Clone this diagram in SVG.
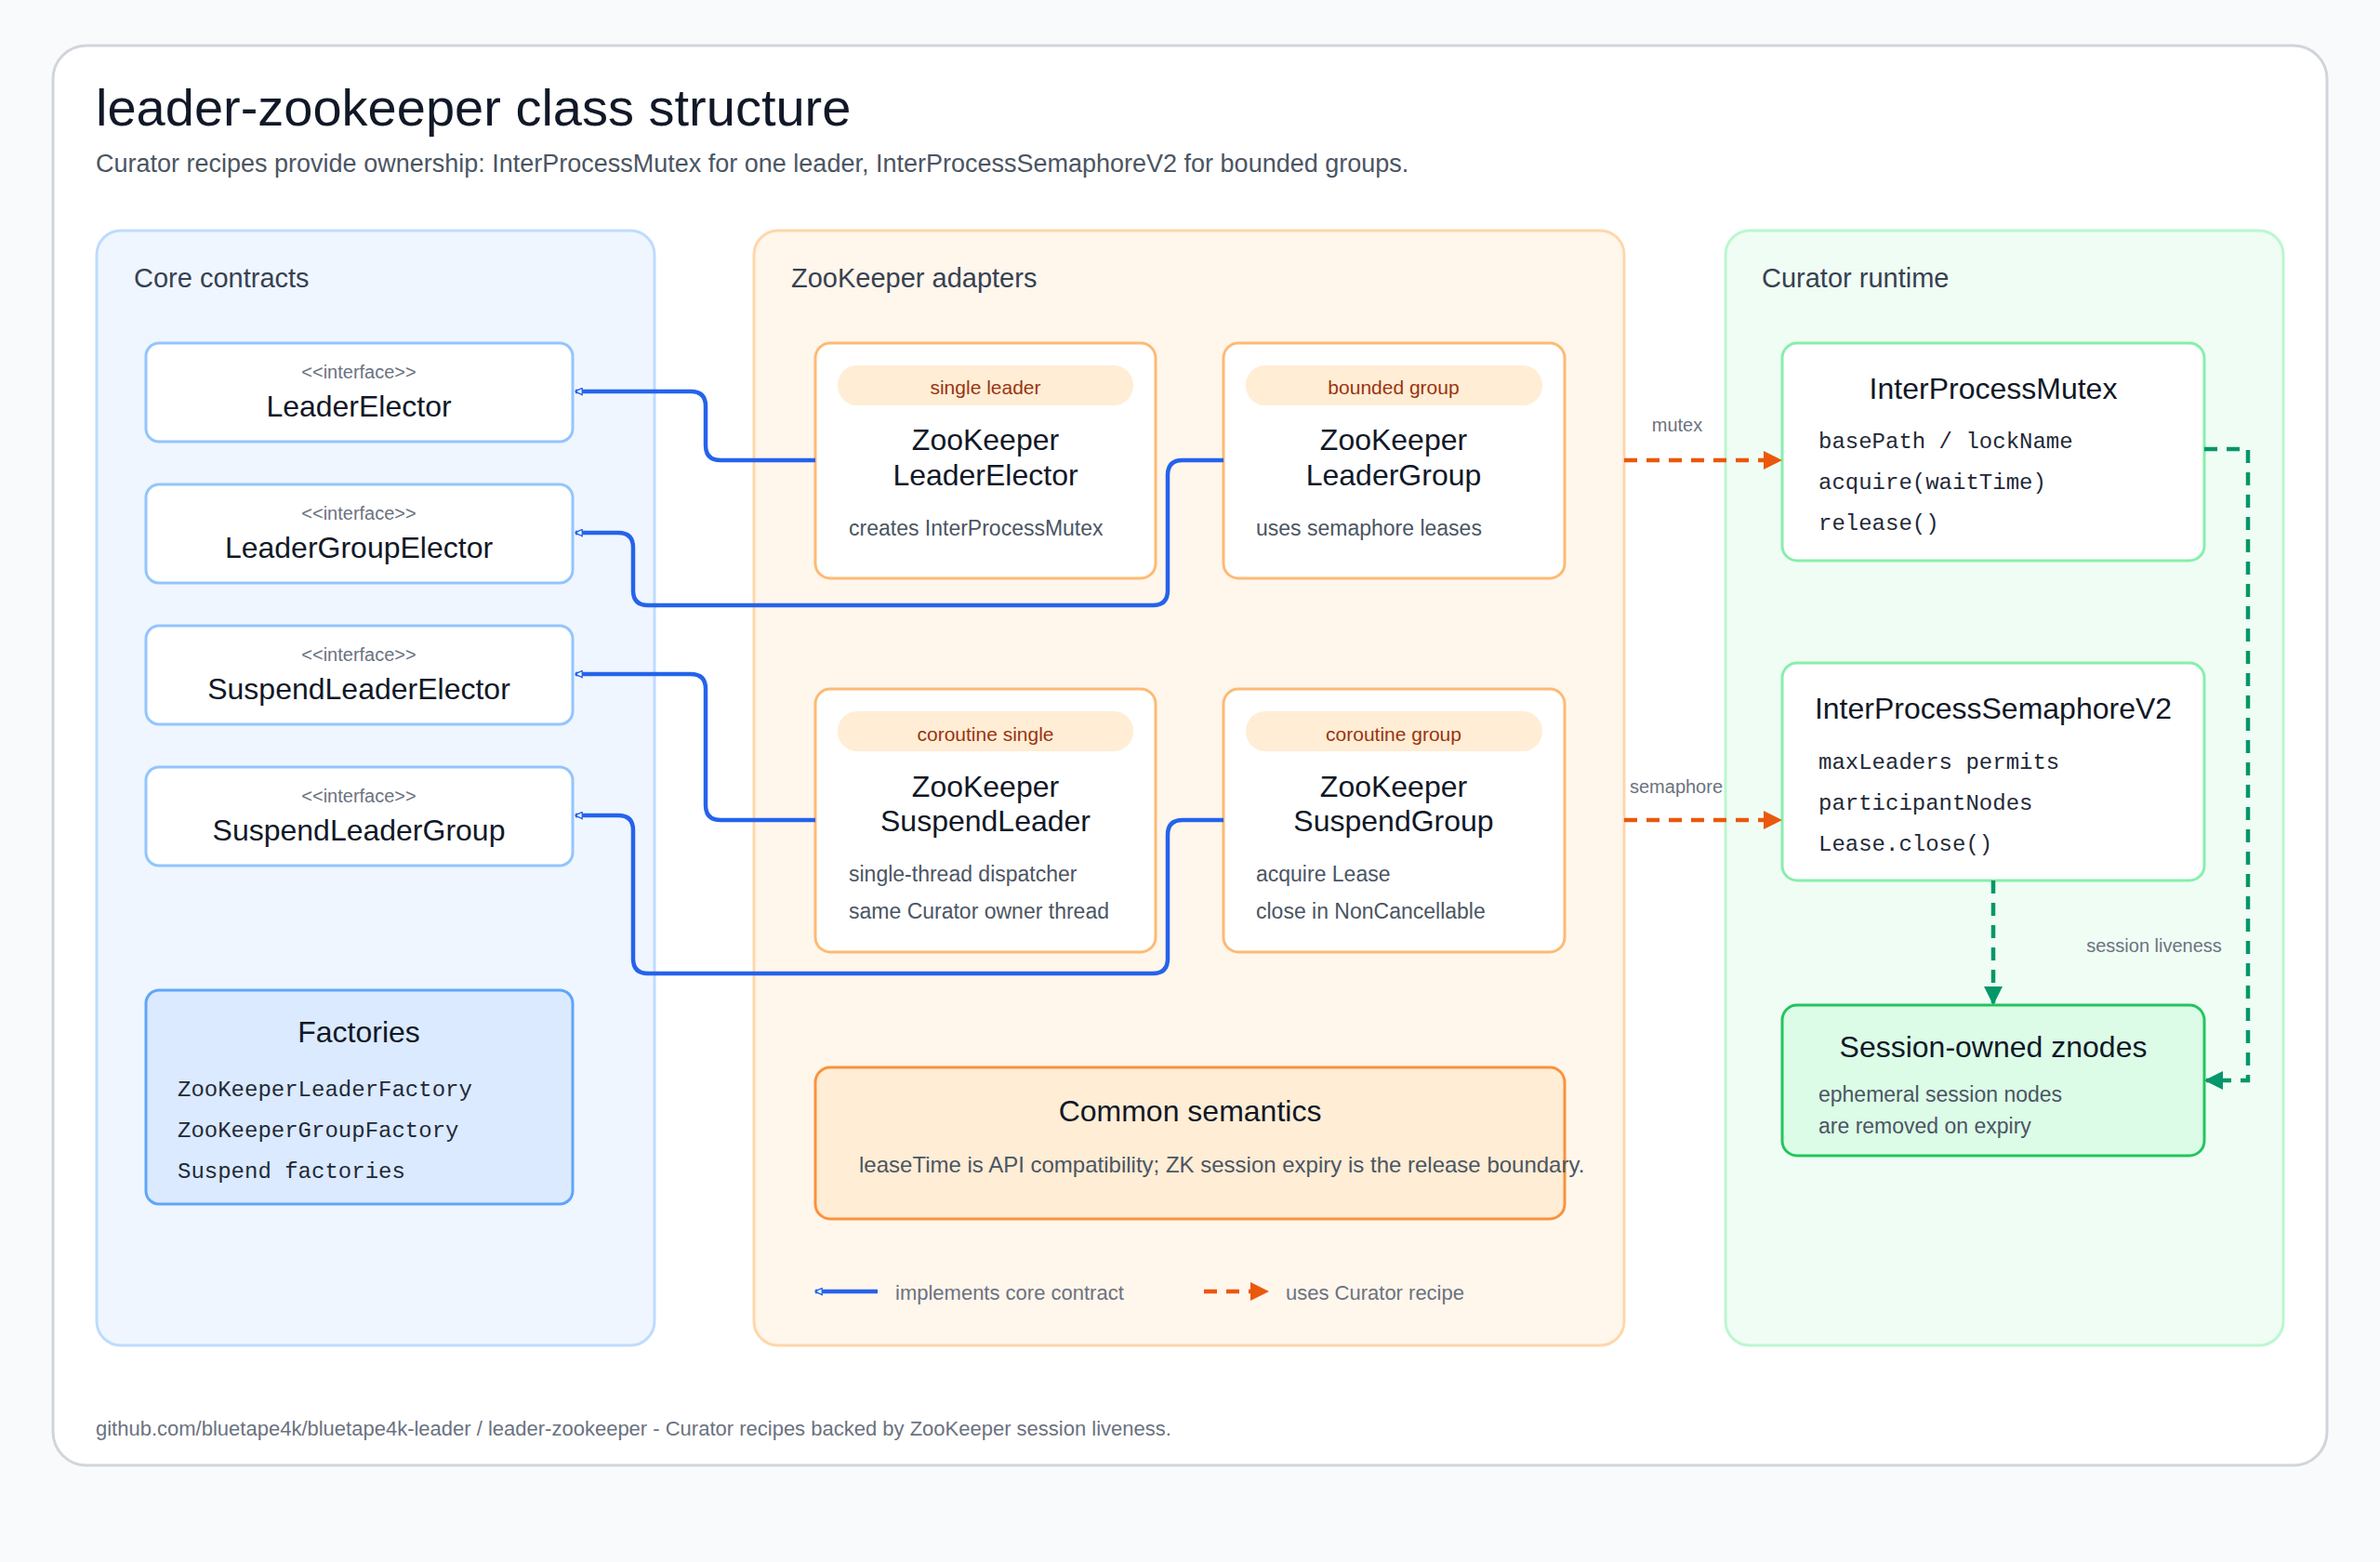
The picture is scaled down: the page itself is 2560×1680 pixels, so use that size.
<svg xmlns="http://www.w3.org/2000/svg" width="2560" height="1680" viewBox="0 0 2560 1680">
<defs>
<style>
text{font-family:"Liberation Sans","DejaVu Sans",sans-serif;dominant-baseline:central;fill:#1f2937}
.mono{font-family:"Liberation Mono","DejaVu Sans Mono",monospace;font-size:24px;fill:#1f2937}
.pl{font-size:29px;fill:#374151}
.st{font-size:20px;fill:#6b7280;text-anchor:middle}
.nm{font-size:32px;text-anchor:middle;fill:#111827}
.ds{font-size:23px;fill:#4b5563}
.pill{font-size:21px;fill:#9a3412;text-anchor:middle}
.lbl{font-size:20px;fill:#6b7280}
.ifc{fill:#fff;stroke:#93c5fd;stroke-width:3}
.zk{fill:#fff;stroke:#fdba74;stroke-width:3}
.cu{fill:#fff;stroke:#86efac;stroke-width:3}
.impl{fill:none;stroke:#2563eb;stroke-width:4.5;marker-end:url(#tri)}
.use{fill:none;stroke:#ea580c;stroke-width:4.5;stroke-dasharray:14 10;marker-end:url(#oa)}
.live{fill:none;stroke:#059669;stroke-width:4.5;stroke-dasharray:14 10;marker-end:url(#ga)}
</style>
<marker id="tri" viewBox="0 0 20 20" refX="18" refY="10" markerWidth="9" markerHeight="9" markerUnits="userSpaceOnUse" orient="auto"><path d="M2 2 L18 10 L2 18 Z" fill="#fff" stroke="#2563eb" stroke-width="3"/></marker>
<marker id="oa" viewBox="0 0 10 10" refX="9" refY="5" markerWidth="20" markerHeight="20" markerUnits="userSpaceOnUse" orient="auto"><path d="M0 0 L10 5 L0 10 Z" fill="#ea580c"/></marker>
<marker id="ga" viewBox="0 0 10 10" refX="9" refY="5" markerWidth="20" markerHeight="20" markerUnits="userSpaceOnUse" orient="auto"><path d="M0 0 L10 5 L0 10 Z" fill="#059669"/></marker>
</defs>
<rect width="2560" height="1680" fill="#f8fafc"/>
<rect x="57" y="49" width="2446" height="1527" rx="36" fill="#fff" stroke="#d1d5db" stroke-width="3"/>
<text x="103" y="115" style="font-size:56px;fill:#111827">leader-zookeeper class structure</text>
<text x="103" y="176" style="font-size:27px;fill:#4b5563">Curator recipes provide ownership: InterProcessMutex for one leader, InterProcessSemaphoreV2 for bounded groups.</text>

<g id="panel-core"><rect x="104" y="248" width="600" height="1199" rx="26" fill="#eff6ff" stroke="#bfdbfe" stroke-width="3"/><text class="pl" x="144" y="299">Core contracts</text></g>
<g id="panel-zk"><rect x="811" y="248" width="936" height="1199" rx="26" fill="#fff6ec" stroke="#fed7aa" stroke-width="3"/><text class="pl" x="851" y="299">ZooKeeper adapters</text></g>
<g id="panel-curator"><rect x="1856" y="248" width="600" height="1199" rx="26" fill="#f0fdf4" stroke="#bbf7d0" stroke-width="3"/><text class="pl" x="1895" y="299">Curator runtime</text></g>

<g id="LeaderElector"><rect class="ifc" x="157" y="369" width="459" height="106" rx="14"/><text class="st" x="386" y="400">&lt;&lt;interface&gt;&gt;</text><text class="nm" x="386" y="437">LeaderElector</text></g>
<g id="LeaderGroupElector"><rect class="ifc" x="157" y="521" width="459" height="106" rx="14"/><text class="st" x="386" y="552">&lt;&lt;interface&gt;&gt;</text><text class="nm" x="386" y="589">LeaderGroupElector</text></g>
<g id="SuspendLeaderElector"><rect class="ifc" x="157" y="673" width="459" height="106" rx="14"/><text class="st" x="386" y="704">&lt;&lt;interface&gt;&gt;</text><text class="nm" x="386" y="741">SuspendLeaderElector</text></g>
<g id="SuspendLeaderGroup"><rect class="ifc" x="157" y="825" width="459" height="106" rx="14"/><text class="st" x="386" y="856">&lt;&lt;interface&gt;&gt;</text><text class="nm" x="386" y="893">SuspendLeaderGroup</text></g>
<g id="Factories"><rect x="157" y="1065" width="459" height="230" rx="14" fill="#dbeafe" stroke="#60a5fa" stroke-width="3"/><text class="nm" x="386" y="1110">Factories</text><text class="mono" x="191" y="1172">ZooKeeperLeaderFactory</text><text class="mono" x="191" y="1216">ZooKeeperGroupFactory</text><text class="mono" x="191" y="1260">Suspend factories</text></g>

<g id="ZooKeeperLeaderElector"><rect class="zk" x="877" y="369" width="366" height="253" rx="16"/><rect x="901" y="393" width="318" height="43" rx="21" fill="#ffedd5"/><text class="pill" x="1060" y="416">single leader</text><text class="nm" x="1060" y="473">ZooKeeper</text><text class="nm" x="1060" y="511">LeaderElector</text><text class="ds" x="913" y="568">creates InterProcessMutex</text></g>
<g id="ZooKeeperLeaderGroup"><rect class="zk" x="1316" y="369" width="367" height="253" rx="16"/><rect x="1340" y="393" width="319" height="43" rx="21" fill="#ffedd5"/><text class="pill" x="1499" y="416">bounded group</text><text class="nm" x="1499" y="473">ZooKeeper</text><text class="nm" x="1499" y="511">LeaderGroup</text><text class="ds" x="1351" y="568">uses semaphore leases</text></g>
<g id="ZooKeeperSuspendLeader"><rect class="zk" x="877" y="741" width="366" height="283" rx="16"/><rect x="901" y="765" width="318" height="43" rx="21" fill="#ffedd5"/><text class="pill" x="1060" y="789">coroutine single</text><text class="nm" x="1060" y="846">ZooKeeper</text><text class="nm" x="1060" y="883">SuspendLeader</text><text class="ds" x="913" y="940">single-thread dispatcher</text><text class="ds" x="913" y="980">same Curator owner thread</text></g>
<g id="ZooKeeperSuspendGroup"><rect class="zk" x="1316" y="741" width="367" height="283" rx="16"/><rect x="1340" y="765" width="319" height="43" rx="21" fill="#ffedd5"/><text class="pill" x="1499" y="789">coroutine group</text><text class="nm" x="1499" y="846">ZooKeeper</text><text class="nm" x="1499" y="883">SuspendGroup</text><text class="ds" x="1351" y="940">acquire Lease</text><text class="ds" x="1351" y="980">close in NonCancellable</text></g>
<g id="CommonSemantics"><rect x="877" y="1148" width="806" height="163" rx="16" fill="#ffedd5" stroke="#fb923c" stroke-width="3"/><text class="nm" x="1280" y="1195">Common semantics</text><text class="ds" x="924" y="1252" style="font-size:24px">leaseTime is API compatibility; ZK session expiry is the release boundary.</text></g>

<g id="InterProcessMutex"><rect class="cu" x="1917" y="369" width="454" height="234" rx="16"/><text class="nm" x="2144" y="418">InterProcessMutex</text><text class="mono" x="1956" y="475">basePath / lockName</text><text class="mono" x="1956" y="519">acquire(waitTime)</text><text class="mono" x="1956" y="563">release()</text></g>
<g id="InterProcessSemaphoreV2"><rect class="cu" x="1917" y="713" width="454" height="234" rx="16"/><text class="nm" x="2144" y="762">InterProcessSemaphoreV2</text><text class="mono" x="1956" y="820">maxLeaders permits</text><text class="mono" x="1956" y="864">participantNodes</text><text class="mono" x="1956" y="908">Lease.close()</text></g>
<g id="SessionZnodes"><rect x="1917" y="1081" width="454" height="162" rx="16" fill="#dcfce7" stroke="#22c55e" stroke-width="3"/><text class="nm" x="2144" y="1126">Session-owned znodes</text><text class="ds" x="1956" y="1177">ephemeral session nodes</text><text class="ds" x="1956" y="1211">are removed on expiry</text></g>

<g id="connectors">
<path class="impl" d="M877 495 H775 Q759 495 759 479 V437 Q759 421 743 421 H619"/>
<path class="impl" d="M1316 495 H1272 Q1256 495 1256 511 V635 Q1256 651 1240 651 H697 Q681 651 681 635 V589 Q681 573 665 573 H619"/>
<path class="impl" d="M877 882 H775 Q759 882 759 866 V741 Q759 725 743 725 H619"/>
<path class="impl" d="M1316 882 H1272 Q1256 882 1256 898 V1031 Q1256 1047 1240 1047 H697 Q681 1047 681 1031 V893 Q681 877 665 877 H619"/>
<path class="use" d="M1747 495 H1915"/>
<path class="use" d="M1747 882 H1915"/>
<path class="live" d="M2371 483 H2418 V1162 H2373"/>
<path class="live" d="M2144 947 V1079"/>
<text class="lbl" x="1804" y="457" text-anchor="middle">mutex</text>
<text class="lbl" x="1803" y="846" text-anchor="middle">semaphore</text>
<text class="lbl" x="2317" y="1017" text-anchor="middle">session liveness</text>
</g>

<g id="legend">
<path class="impl" d="M944 1389 H877" style="marker-end:url(#tri)"/>
<text class="lbl" x="963" y="1390" style="font-size:22px">implements core contract</text>
<path class="use" d="M1295 1389 H1363"/>
<text class="lbl" x="1383" y="1390" style="font-size:22px">uses Curator recipe</text>
</g>
<text x="103" y="1536" style="font-size:22px;fill:#6b7280">github.com/bluetape4k/bluetape4k-leader / leader-zookeeper - Curator recipes backed by ZooKeeper session liveness.</text>
</svg>
